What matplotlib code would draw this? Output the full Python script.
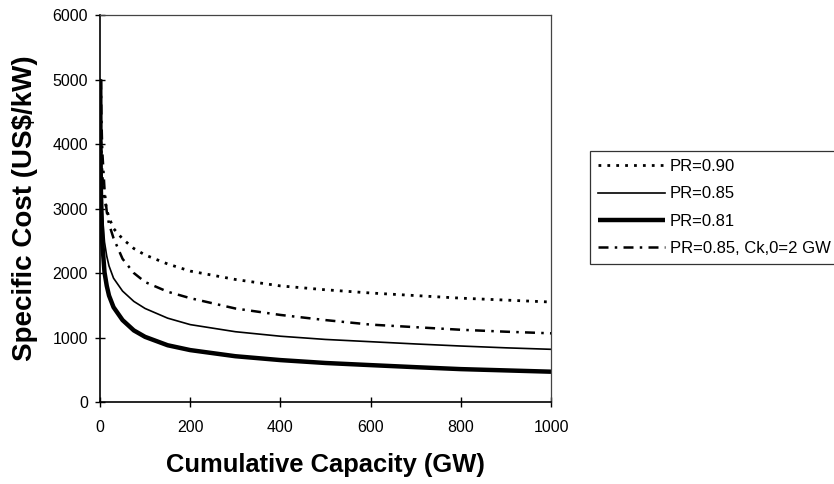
import matplotlib
matplotlib.use("Agg")
import matplotlib.pyplot as plt

plt.rcParams["font.family"] = ["Liberation Sans", "DejaVu Sans"]

# values
cap = [0.5, 1, 2, 5, 10, 15, 20, 30, 50, 75, 100, 150, 200, 300, 400, 500, 600, 700, 800, 900, 1000]

pr090 = [5000, 4500, 4040, 3500, 3150, 2980, 2860, 2690, 2530, 2380, 2280, 2140, 2030, 1900, 1800, 1740, 1690, 1650, 1610, 1580, 1550]
pr085 = [5000, 4250, 3610, 2920, 2480, 2260, 2110, 1920, 1720, 1560, 1450, 1300, 1200, 1090, 1020, 970, 935, 900, 868, 840, 817]
pr081 = [5000, 4050, 3280, 2480, 2010, 1800, 1650, 1470, 1270, 1110, 1010, 880, 805, 710, 650, 605, 572, 540, 510, 490, 470]

cap_2gw = [2, 3, 5, 10, 15, 20, 30, 50, 75, 100, 150, 200, 300, 400, 500, 600, 700, 800, 900, 1000]
pr085_2gw = [5000, 4450, 3900, 3300, 2950, 2760, 2540, 2220, 2000, 1860, 1710, 1610, 1450, 1350, 1270, 1200, 1160, 1120, 1090, 1065]

labels = ["PR=0.90", "PR=0.85", "PR=0.81", "PR=0.85, Ck,0=2 GW"]

fig = plt.figure(figsize=(8.34, 4.84), dpi=100)
ax = fig.add_axes([0.1199, 0.1694, 0.5408, 0.7996])

ax.plot(cap, pr090, color="black", lw=2, linestyle=(0, (1, 2.2)), label=labels[0])
ax.plot(cap, pr085, color="black", lw=1.2, label=labels[1])
ax.plot(cap, pr081, color="black", lw=3.2, solid_capstyle="butt", label=labels[2])
ax.plot(cap_2gw, pr085_2gw, color="black", lw=1.8, linestyle=(0, (4, 2.5, 1, 2.5)), label=labels[3])

ax.set_xlim(0, 1000)
ax.set_ylim(0, 6000)
ax.set_xticks(range(0, 1001, 200))
ax.set_yticks(range(0, 6001, 1000))
ax.tick_params(axis="both", direction="inout", length=6.5, width=1, labelsize=11.5)
ax.tick_params(axis="x", pad=10)
ax.tick_params(axis="y", pad=5.5)

for side in ["left", "bottom"]:
    ax.spines[side].set_linewidth(1.2)
    ax.spines[side].set_color("black")
for side in ["top", "right"]:
    ax.spines[side].set_linewidth(0.9)
    ax.spines[side].set_color("#444444")

ax.set_xlabel("Cumulative Capacity (GW)", fontsize=18.4, fontweight="bold", labelpad=13)
ax.set_ylabel("Specific Cost (US$/kW)", fontsize=20, fontweight="bold", labelpad=10)

leg = fig.legend(loc="upper left", bbox_to_anchor=(590 / 834, 1 - 151 / 484),
                 fontsize=12, frameon=True, fancybox=False, borderaxespad=0,
                 handlelength=4, handletextpad=0.3, labelspacing=0.73, borderpad=0.5)
leg.get_frame().set_edgecolor("black")
leg.get_frame().set_linewidth(0.9)

fig.savefig("out.png", dpi=100)
